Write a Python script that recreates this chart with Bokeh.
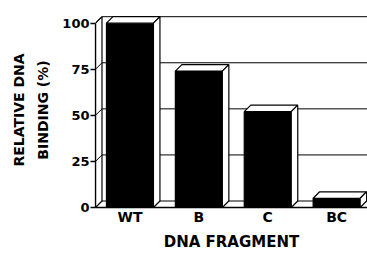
from bokeh.plotting import figure
from bokeh.models import ColumnDataSource, FixedTicker, Range1d
from bokeh.embed import file_html
from bokeh.resources import INLINE

# ---- data ----
categories = ["WT", "B", "C", "BC"]
binding = [100, 74, 52, 5]
y_ticks = [0, 25, 50, 75, 100]
x_title = "DNA FRAGMENT"
y_title = "RELATIVE DNA\nBINDING (%)"

# ---- layout ----
W, H = 367, 253
LEFT, RIGHT, TOP, BOTTOM = 95, 0, 12, 46
frame_w = W - LEFT - RIGHT
frame_h = H - TOP - BOTTOM
PX_PER_X = 68.9     # pixels per category step
PX_PER_Y = 1.843    # pixels per percent
x0 = -0.5
x1 = x0 + frame_w / PX_PER_X
y1 = frame_h / PX_PER_Y
DX = 6.5 / PX_PER_X   # 3-D depth, in data units
DY = 6.5 / PX_PER_Y
HALF = 23.5 / PX_PER_X
TOPV = max(y_ticks)

p = figure(width=W, height=H, x_range=Range1d(x0, x1), y_range=Range1d(0, y1),
           output_backend="svg", toolbar_location=None,
           min_border_left=LEFT, min_border_right=RIGHT,
           min_border_top=TOP, min_border_bottom=BOTTOM)
p.outline_line_color = None
p.xgrid.visible = False
p.ygrid.visible = False
p.background_fill_color = "white"
p.border_fill_color = "white"

LW = 1.2
# left wall
p.patch([x0, x0, x0 + DX, x0 + DX], [0, TOPV, TOPV + DY, DY],
        fill_color="white", line_color="black", line_width=LW)
# back wall gridlines + top line
p.segment(x0=[x0 + DX] * len(y_ticks), y0=[v + DY for v in y_ticks],
          x1=[x1 + 1] * len(y_ticks), y1=[v + DY for v in y_ticks],
          line_color="black", line_width=1.0)
# diagonals on left wall
p.segment(x0=[x0] * len(y_ticks), y0=y_ticks,
          x1=[x0 + DX] * len(y_ticks), y1=[v + DY for v in y_ticks],
          line_color="black", line_width=1.0)

# bars
xs = list(range(len(categories)))
front = ColumnDataSource(dict(left=[c - HALF for c in xs], right=[c + HALF for c in xs],
                              top=binding, bottom=[0] * len(xs)))
p.quad(left="left", right="right", top="top", bottom="bottom", source=front,
       fill_color="black", line_color="black", line_width=LW)
top_xs = [[c - HALF, c + HALF, c + HALF + DX, c - HALF + DX] for c in xs]
top_ys = [[v, v, v + DY, v + DY] for v in binding]
side_xs = [[c + HALF, c + HALF, c + HALF + DX, c + HALF + DX] for c in xs]
side_ys = [[0, v, v + DY, DY] for v in binding]
p.patches(top_xs, top_ys, fill_color="white", line_color="black", line_width=LW)
p.patches(side_xs, side_ys, fill_color="white", line_color="black", line_width=LW)

# axes
font = "DejaVu Sans"
p.xaxis.ticker = FixedTicker(ticks=xs)
p.xaxis.major_label_overrides = {i: c for i, c in enumerate(categories)}
p.xaxis.major_tick_out = 0
p.xaxis.major_tick_in = 0
p.xaxis.minor_tick_line_color = None
p.xaxis.axis_line_width = 1.3
p.xaxis.axis_line_color = "black"
p.xaxis.major_label_text_font = font
p.xaxis.major_label_text_font_style = "bold"
p.xaxis.major_label_text_font_size = "14px"
p.xaxis.major_label_text_color = "black"
p.xaxis.major_label_standoff = 1
p.xaxis.axis_label = x_title
p.xaxis.axis_label_text_font = font
p.xaxis.axis_label_text_font_style = "bold"
p.xaxis.axis_label_text_font_size = "15px"
p.xaxis.axis_label_text_color = "black"
p.xaxis.axis_label_standoff = 5

p.yaxis.ticker = FixedTicker(ticks=y_ticks)
p.yaxis.bounds = (0, TOPV)
p.yaxis.major_tick_out = 5
p.yaxis.major_tick_in = 0
p.yaxis.major_tick_line_width = 1.3
p.yaxis.minor_tick_line_color = None
p.yaxis.axis_line_width = 1.3
p.yaxis.axis_line_color = "black"
p.yaxis.major_label_text_font = font
p.yaxis.major_label_text_font_style = "bold"
p.yaxis.major_label_text_font_size = "13px"
p.yaxis.major_label_text_color = "black"
p.yaxis.major_label_standoff = 1
p.yaxis.axis_label = y_title
p.yaxis.axis_label_text_font = font
p.yaxis.axis_label_text_font_style = "bold"
p.yaxis.axis_label_text_font_size = "14px"
p.yaxis.axis_label_text_color = "black"
p.yaxis.axis_label_text_line_height = 1.5
p.yaxis.axis_label_standoff = 8

open("out.html", "w").write(file_html(p, INLINE))
